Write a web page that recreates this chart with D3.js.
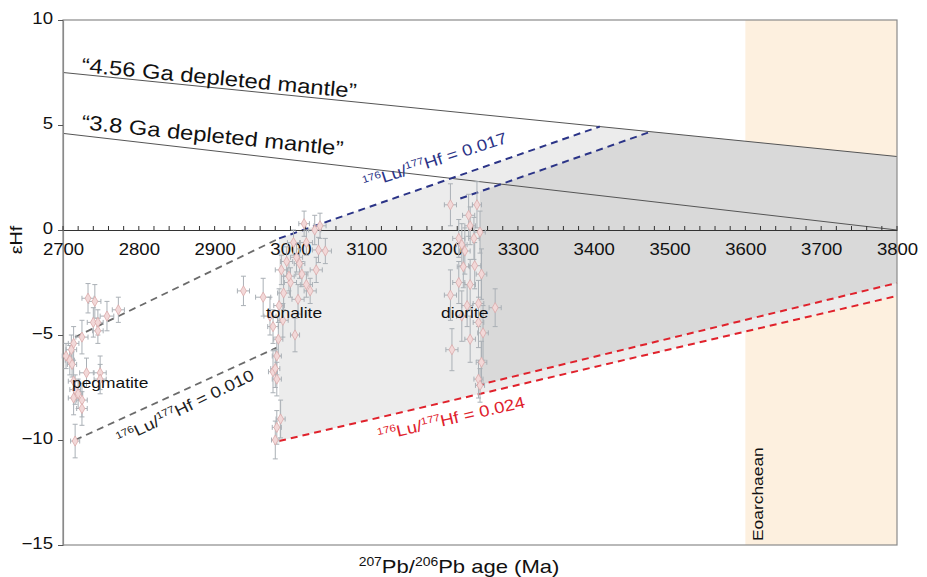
<!DOCTYPE html>
<html>
<head>
<meta charset="utf-8">
<script src="https://cdn.jsdelivr.net/npm/d3@7"></script>
<style>
  body { margin: 0; background: #fff; }
  svg text { font-family: "Liberation Sans", Arial, sans-serif; }
</style>
</head>
<body>
<div id="chart"></div>
<script>
// ---- data ----
// [age (Ma), eHf, age error, eHf error]
var pegmatite = [
  [2733,-3.25,8,0.7],[2742,-3.4,8,0.8],[2740,-4.4,8,0.7],[2746,-4.4,7,0.6],[2746,-4.8,7,0.6],
  [2758,-4.1,9,0.7],[2773,-3.8,8,0.6],[2725,-5.1,8,0.8],[2714,-5.4,7,0.8],[2711,-5.7,7,0.7],
  [2709,-6.2,6,0.7],[2712,-6.4,6,0.6],[2704,-6.0,5,0.6],[2731,-6.8,9,0.7],[2749,-6.8,8,0.8],
  [2749,-7.1,8,0.7],[2714,-7.2,7,0.8],[2716,-7.6,7,0.7],[2720,-7.8,6,0.7],[2714,-8.0,7,0.8],
  [2725,-8.1,7,0.8],[2725,-8.5,7,0.8],[2716,-10.05,6,0.8]
];
var tonalite = [
  [2938,-2.9,8,0.7],[2964,-3.2,10,0.9],[2973,-4.1,8,0.9],[2977,-4.6,7,0.8],[2984,-5.2,6,0.8],
  [3006,-5.0,6,0.8],[2982,-6.0,6,0.9],[2977,-6.75,6,1.0],[2980,-6.6,6,0.9],[2982,-7.1,6,0.8],
  [2987,-9.0,6,0.9],[2982,-9.4,6,0.8],[2980,-10.0,5,0.9],[3037,-0.95,8,0.6],[3032,0.0,8,0.7],
  [3046,-1.0,8,0.6],[3008,-1.3,8,0.7],[2995,-1.5,8,0.7],[3015,-2.1,8,0.6],[3000,-2.5,8,0.7],
  [3021,-2.6,8,0.6],[2991,-3.0,8,0.8],[3010,-3.3,8,0.7],[3026,-2.9,8,0.6],[2988,-1.9,8,0.7],
  [3004,-0.6,8,0.6],[3021,-0.6,8,0.6],[3034,-1.9,8,0.6],[3039,0.2,8,0.6],[3018,0.3,7,0.6],
  [2998,-2.2,7,0.7],[3012,-1.6,7,0.7],[2985,-3.6,7,0.8],[2990,-4.3,7,0.8]
];
var diorite = [
  [3211,1.2,8,1.0],[3235,0.7,8,1.0],[3246,1.2,6,1.1],[3237,0.2,7,0.9],[3250,-0.1,7,1.0],
  [3222,-0.4,8,0.9],[3226,-0.7,7,1.0],[3242,-0.4,7,1.0],[3230,-1.0,7,1.1],[3228,-1.75,8,1.0],
  [3243,-1.7,8,1.1],[3252,-2.1,7,1.2],[3222,-2.5,8,1.0],[3237,-2.6,7,1.2],[3211,-3.1,8,1.2],
  [3233,-3.6,7,1.0],[3248,-3.5,7,1.1],[3270,-3.7,8,0.9],[3226,-4.1,7,1.2],[3248,-4.4,7,1.2],
  [3237,-5.2,7,1.1],[3254,-4.9,7,1.3],[3213,-5.7,8,1.0],[3252,-6.3,7,1.0],[3248,-7.1,6,0.9],
  [3250,-7.4,6,0.8]
];

// reference lines [age, eHf]
var dm456 = [[2700,7.5],[3800,3.5]];
var dm38 = [[2700,4.6],[3800,0]];
var lu010Upper = [[2716,-5.1],[2985,-0.4]];
var lu010Lower = [[2716,-10.0],[2982,-5.6]];
var lu017Tonalite = [[2985,-0.4],[3408,4.93]];
var lu017Diorite = [[3224,1.5],[3475,4.68]];
var lu024Tonalite = [[2985,-10.05],[3800,-3.14]];
var lu024Diorite = [[3246,-7.4],[3800,-2.52]];
var eoarchaean = [3600, 3800];
var dioriteFieldStart = 3250;

var xTicks = [2700,2800,2900,3000,3100,3200,3300,3400,3500,3600,3700,3800];
var yTicks = [-15,-10,-5,0,5,10];

// ---- setup ----
var margin = { top: 20, left: 63, right: 30, bottom: 32 },
  width = 927 - margin.left - margin.right,
  height = 577 - margin.top - margin.bottom;
var stretch = 1.16; // the original lettering is a bit wide

var svgRoot = d3.select("#chart").append("svg")
  .attr("width", 927).attr("height", 577);
var svg = svgRoot.append("g")
  .attr("transform", "translate(" + margin.left + "," + margin.top + ")");

var xScale = d3.scaleLinear().domain([2700, 3800]).range([0, width]);
var yScale = d3.scaleLinear().domain([-15, 10]).range([height, 0]);

function at(line, t) {
  var a = line[0], b = line[1];
  return a[1] + (b[1] - a[1]) * (t - a[0]) / (b[0] - a[0]);
}
var lineGen = d3.line().x(d => xScale(d[0])).y(d => yScale(d[1]));

// eoarchaean band
svg.append("rect")
  .attr("x", xScale(eoarchaean[0])).attr("y", 0)
  .attr("width", xScale(eoarchaean[1]) - xScale(eoarchaean[0]))
  .attr("height", height)
  .style("fill", "#fdf0df");

// grey fields
var lightField = [lu017Tonalite[0], lu017Tonalite[1], [3800, at(dm456, 3800)], lu024Tonalite[1], lu024Tonalite[0]];
svg.append("path").attr("d", lineGen(lightField) + "Z").style("fill", "#ececec");

var darkField = [[dioriteFieldStart, at(lu017Diorite, dioriteFieldStart)], lu017Diorite[1],
  [3800, at(dm456, 3800)], lu024Diorite[1], [dioriteFieldStart, at(lu024Diorite, dioriteFieldStart)]];
svg.append("path").attr("d", lineGen(darkField) + "Z").style("fill", "#d9d9d9");

// depleted mantle lines
[dm456, dm38].forEach(function(l) {
  svg.append("path").attr("d", lineGen(l))
    .style("fill", "none").style("stroke", "#555").style("stroke-width", 1);
});

// Lu/Hf evolution lines
function dashed(l, color, w) {
  svg.append("path").attr("d", lineGen(l))
    .style("fill", "none").style("stroke", color)
    .style("stroke-width", w).style("stroke-dasharray", "7,5");
}
dashed(lu010Upper, "#6b6b6b", 1.8);
dashed(lu010Lower, "#6b6b6b", 1.8);
dashed(lu017Tonalite, "#2b3487", 2);
dashed(lu017Diorite, "#2b3487", 2);
dashed(lu024Tonalite, "#e0222c", 2);
dashed(lu024Diorite, "#e0222c", 2);

// frame
svg.append("rect").attr("x", 0).attr("y", 0).attr("width", width).attr("height", height)
  .style("fill", "none").style("stroke", "#8a8a8a").style("stroke-width", 1.2);

// y axis
var yAxis = svg.append("g")
  .call(d3.axisLeft(yScale).tickValues(yTicks).tickSize(5).tickFormat(d3.format("d")));
yAxis.select(".domain").style("stroke", "#8a8a8a").style("stroke-width", 1.2);
yAxis.selectAll("line").style("stroke", "#555");
yAxis.selectAll("text").style("font-size", "16px").style("fill", "#111")
  .attr("x", 0).attr("transform", "translate(-10,-2) scale(" + stretch + ",1)");

// x axis at eHf = 0, minor ticks every 20 Ma pointing up
var xAxis = svg.append("g")
  .attr("transform", "translate(0," + yScale(0) + ")")
  .call(d3.axisBottom(xScale).tickValues(xTicks).tickSize(0).tickPadding(14).tickFormat(d3.format("d")));
xAxis.select(".domain").style("stroke", "#333").style("stroke-width", 1.2);
xAxis.selectAll("text").style("font-size", "16px").style("fill", "#111")
  .attr("transform", "scale(" + stretch + ",1)");
xAxis.selectAll(".minor").data(d3.range(2700, 3801, 20)).enter().append("line")
  .attr("x1", d => xScale(d)).attr("x2", d => xScale(d))
  .attr("y1", 0).attr("y2", -4).style("stroke", "#333");

// data points with error bars
var allPoints = pegmatite.concat(tonalite, diorite);
var eb = svg.append("g").style("stroke", "#aab0b6").style("stroke-width", 1);
allPoints.forEach(function(p) {
  var cx = xScale(p[0]), cy = yScale(p[1]);
  var x0 = xScale(p[0] - p[2]), x1 = xScale(p[0] + p[2]);
  var y0 = yScale(p[1] - p[3]), y1 = yScale(p[1] + p[3]);
  eb.append("line").attr("x1", x0).attr("x2", x1).attr("y1", cy).attr("y2", cy);
  eb.append("line").attr("x1", cx).attr("x2", cx).attr("y1", y0).attr("y2", y1);
  eb.append("line").attr("x1", x0).attr("x2", x0).attr("y1", cy - 2.5).attr("y2", cy + 2.5);
  eb.append("line").attr("x1", x1).attr("x2", x1).attr("y1", cy - 2.5).attr("y2", cy + 2.5);
  eb.append("line").attr("x1", cx - 2.5).attr("x2", cx + 2.5).attr("y1", y0).attr("y2", y0);
  eb.append("line").attr("x1", cx - 2.5).attr("x2", cx + 2.5).attr("y1", y1).attr("y2", y1);
});
svg.append("g").selectAll("path").data(allPoints).enter().append("path")
  .attr("d", d3.symbol().type(d3.symbolDiamond).size(30))
  .attr("transform", d => "translate(" + xScale(d[0]) + "," + yScale(d[1]) + ")")
  .style("fill", "#f2d8d8").style("stroke", "#dcabab").style("stroke-width", 0.8);

// text labels
function label(txt, x, y, size, rot, color, anchor) {
  return svgRoot.append("text")
    .attr("transform", "translate(" + x + "," + y + ") rotate(" + rot + ") scale(" + stretch + ",1)")
    .attr("text-anchor", anchor || "start")
    .style("font-size", size + "px").style("fill", color || "#111")
    .text(txt);
}
label("\u201C4.56 Ga depleted mantle\u201D", 81, 72, 20.5, 5.4);
label("\u201C3.8 Ga depleted mantle\u201D", 81, 129, 20.5, 5.8);
label("pegmatite", 72, 388, 15, 0);
label("tonalite", 266, 318, 15, 0);
label("diorite", 441, 318, 15, 0);
label("Eoarchaean", 763, 541, 15, -90);

function luLabel(value, x, y, rot, color) {
  var t = svgRoot.append("text")
    .attr("transform", "translate(" + x + "," + y + ") rotate(" + rot + ") scale(" + stretch + ",1)")
    .style("font-size", "16px").style("fill", color);
  t.append("tspan").attr("dy", -6).style("font-size", "10px").text("176");
  t.append("tspan").attr("dy", 6).text("Lu/");
  t.append("tspan").attr("dy", -6).style("font-size", "10px").text("177");
  t.append("tspan").attr("dy", 6).text("Hf = " + value);
}
luLabel("0.017", 365, 189, -18, "#2b3487");
luLabel("0.010", 120, 445, -26, "#222");
luLabel("0.024", 379, 441, -13, "#e0222c");

// axis titles
var xt = svgRoot.append("text")
  .attr("transform", "translate(459,573) scale(" + stretch + ",1)")
  .attr("text-anchor", "middle")
  .style("font-size", "19px").style("fill", "#111");
xt.append("tspan").attr("dy", -7).style("font-size", "12px").text("207");
xt.append("tspan").attr("dy", 7).text("Pb/");
xt.append("tspan").attr("dy", -7).style("font-size", "12px").text("206");
xt.append("tspan").attr("dy", 7).text("Pb age (Ma)");

svgRoot.append("text")
  .attr("transform", "translate(22,240) rotate(-90) scale(" + stretch + ",1)")
  .attr("text-anchor", "middle")
  .style("font-size", "17px").style("fill", "#111")
  .text("\u03B5Hf");
</script>
</body>
</html>
